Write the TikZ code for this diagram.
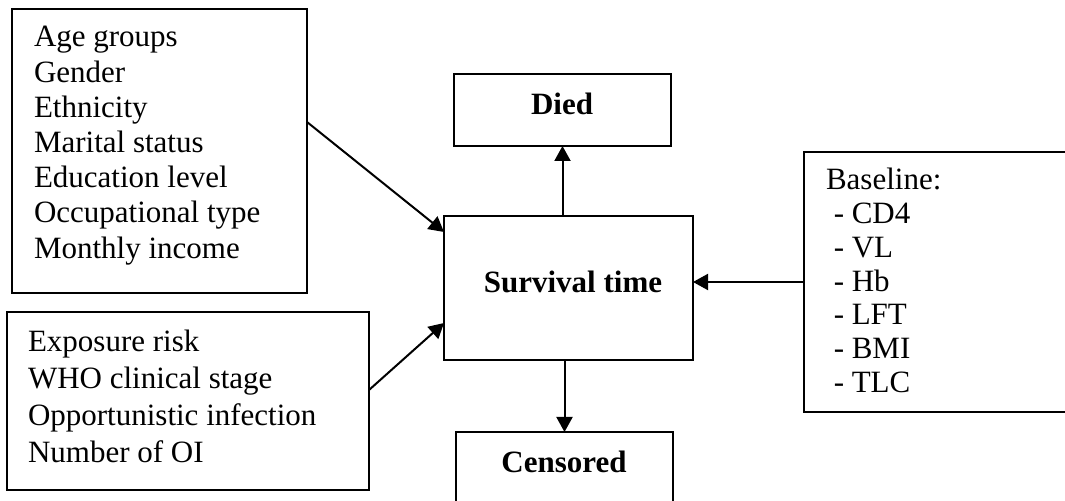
\documentclass[tikz,border=0pt]{standalone}
\usepackage{fontspec}
\setmainfont{Liberation Serif}
\usetikzlibrary{arrows.meta}

\begin{document}
\begin{tikzpicture}[x=0.5pt,y=-0.5pt,
  line width=1pt,
  cbox/.style={draw, rectangle, anchor=north west, inner sep=0pt, outer sep=0pt},
  txt/.style={anchor=base west, inner sep=0pt, font=\fontsize{15.5pt}{17.6pt}\selectfont},
  bold/.style={anchor=base, inner sep=0pt, font=\fontsize{15.5pt}{17.6pt}\selectfont\bfseries},
  arr/.style={-{Triangle[length=7.5pt,width=8pt]}}]
\useasboundingbox (0,0) rectangle (1065,501);
\clip (0,0) rectangle (1065,501);

% frames
\node[cbox, minimum width=147.5pt, minimum height=142pt] (demo) at (12,9) {};
\node[cbox, minimum width=181pt, minimum height=89pt] (clin) at (7,312) {};
\node[cbox, minimum width=124.5pt, minimum height=72pt] (surv) at (444,216) {};
\node[cbox, minimum width=108.5pt, minimum height=36pt] (died) at (454,74) {};
\node[cbox, minimum width=108.5pt, minimum height=50pt] (cens) at (456,432) {};
\node[cbox, minimum width=140pt, minimum height=130pt] (base) at (804,152) {};

% texts
\node[txt] (demotxt) at (33,47) {\begin{tabular}[t]{@{}l@{}}
Age groups\\ Gender\\ Ethnicity\\ Marital status\\ Education level\\
Occupational type\\ Monthly income\end{tabular}};
\node[txt, font=\fontsize{15.5pt}{18.35pt}\selectfont] (clintxt) at (27,352) {\begin{tabular}[t]{@{}l@{}}
Exposure risk\\ WHO clinical stage\\ Opportunistic infection\\ Number of OI\end{tabular}};
\node[txt, font=\fontsize{15.5pt}{16.85pt}\selectfont] (basetxt) at (825,190) {\begin{tabular}[t]{@{}l@{}}
Baseline:\\ \hspace{0.25em}- CD4\\ \hspace{0.25em}- VL\\ \hspace{0.25em}- Hb\\
\hspace{0.25em}- LFT\\ \hspace{0.25em}- BMI\\ \hspace{0.25em}- TLC\end{tabular}};
\node[bold] (diedtxt) at (562,115) {Died};
\node[bold] (survtxt) at (573,293) {Survival time};
\node[bold] (censtxt) at (564,473) {Censored};

% connectors
\draw[arr] ([yshift=-56.5pt]demo.north east) -- ([yshift=-8pt]surv.north west);
\draw[arr] ([yshift=-39pt]clin.north east) -- ([yshift=-53.5pt]surv.north west);
\draw[arr] (base.west) -- (base.west -| surv.east);
\draw[arr] (died.south |- surv.north) -- (died.south);
\draw[arr] (cens.north |- surv.south) -- (cens.north);
\end{tikzpicture}
\end{document}
